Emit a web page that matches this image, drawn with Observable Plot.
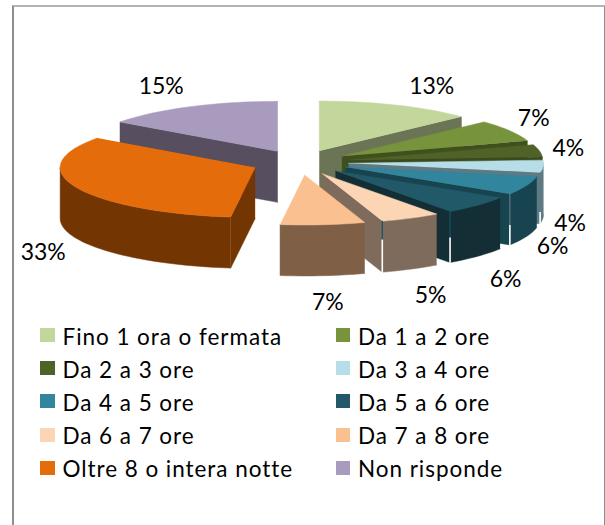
<!DOCTYPE html>
<html>
<head>
<meta charset="utf-8">
<script src="https://cdn.jsdelivr.net/npm/d3@7"></script>
<script src="https://cdn.jsdelivr.net/npm/@observablehq/plot@0.6"></script>
<style>
  html, body { margin: 0; padding: 0; background: #fff; }
  #page { position: relative; width: 605px; height: 525px; overflow: hidden; font-family: Lato, "Open Sans", sans-serif; color: #000; }
  #frame { position: absolute; left: 12px; top: 5px; width: 590px; height: 530px; border: 2px solid #8e8e8e; border-top-color: #b4b4b4; }
  #chart { position: absolute; left: 0; top: 0; }
  #chart svg { background: transparent; display: block; }
  #legend { position: absolute; left: 40px; top: 319.5px; display: grid; grid-template-columns: 295.5px 250px; grid-auto-rows: 33.2px; font-size: 22.5px; letter-spacing: 0.95px; }
  .item { display: flex; align-items: center; white-space: nowrap; }
  .swatch { width: 14.5px; height: 14px; margin-right: 8px; flex: none; position: relative; top: -1px; }
</style>
</head>
<body>
<div id="page">
  <div id="frame"></div>
  <div id="chart"></div>
  <div id="legend"></div>
</div>
<script>
const categories = ["Fino 1 ora o fermata","Da 1 a 2 ore","Da 2 a 3 ore","Da 3 a 4 ore","Da 4 a 5 ore","Da 5 a 6 ore","Da 6 a 7 ore","Da 7 a 8 ore","Oltre 8 o intera notte","Non risponde"];
const values = [13,7,4,4,6,6,5,7,33,15];
const topColors = ["#C3D69B","#77933C","#4F6228","#B7DEE8","#31859C","#215968","#FCD5B5","#FAC090","#E46C0A","#A99BBD"];
const sideColors = ["#6B7555","#3F4F1E","#3A4A1C","#5F7A84","#17444F","#132E35","#7F6B5B","#7F6047","#733602","#574E60"];

// Layout of the exploded pie, in pixels
const W = 605, H = 325, CX = 299.4, CY = 162, RX = 195, RY = 50, DEPTH = 1.02, EXPLODE = 0.25;
// Pixel nudges of the labels from each slice's outer midpoint
const labelNudge = [[35,-19],[24,-12],[29,-2],[27,57],[26,61],[28,74],[20,77],[5,78],[-33,65],[-28,-20]];
// Thin seams at the end of some slices' walls: [slice, fraction of the wall where white starts, upper colour]
const seams = [[3,.78,"#5F7A84"],[4,.62,"#5F7A84"],[5,.52,"#17536A"],[6,.37,"#17536A"]];

const total = d3.sum(values);
const rad = Math.PI / 180;
let cum = 0;
const slices = values.map((v, i) => {
  const a0 = cum / total * 360; cum += v;
  const a1 = cum / total * 360;
  const mid = (a0 + a1) / 2 * rad;
  const ax = EXPLODE * Math.sin(mid), ay = -EXPLODE * Math.cos(mid);
  return {i, name: categories[i], value: v, a0, a1, mid, ax, ay};
});
const rim = (s, a) => [s.ax + Math.sin(a * rad), s.ay - Math.cos(a * rad)];
function arc(s, from, to) {
  const n = Math.max(1, Math.ceil((to - from) / 2));
  return d3.range(n + 1).map(k => rim(s, from + (to - from) * k / n));
}

const faces = [];
function addFace(pts, key, id) { pts.forEach(([x, y]) => faces.push({x, y, key, id})); }
function wall(pts, s, id) {
  const key = s.name + " side";
  addFace([...pts, ...pts.slice().reverse().map(([x, y]) => [x, y + DEPTH])], key, id);
}
// painter's order: the fan on the right from back to front, then the other slices
[0,1,2,3,4,5,6,7,9,8].forEach(i => {
  const s = slices[i];
  if (Math.sin(s.a0 * rad) < -1e-6) wall([[s.ax, s.ay], rim(s, s.a0)], s, i + "start");
  if (Math.sin(s.a1 * rad) > 1e-6) wall([[s.ax, s.ay], rim(s, s.a1)], s, i + "end");
  const f = Math.max(s.a0, 90), t = Math.min(s.a1, 270);
  if (t > f) wall(arc(s, f, t), s, i + "outer");
  addFace([[s.ax, s.ay], ...arc(s, s.a0, s.a1)], s.name, i + "top");
});

const labels = slices.map((s, i) => ({
  text: s.value + "%",
  x: s.ax + Math.sin(s.mid) + labelNudge[i][0] / RX,
  y: s.ay - Math.cos(s.mid) + labelNudge[i][1] / RY
}));
const seamRows = seams.map(([i, f, c]) => {
  const [x, y] = rim(slices[i], slices[i].a1);
  return {x, y, f, c};
});

const chart = Plot.plot({
  width: W, height: H, margin: 0,
  x: {domain: [-CX / RX, (W - CX) / RX], range: [0, W], axis: null},
  y: {domain: [-CY / RY, (H - CY) / RY], range: [0, H], axis: null},
  color: {
    domain: [...categories, ...categories.map(c => c + " side")],
    range: [...topColors, ...sideColors]
  },
  marks: [
    Plot.line(faces, {x: "x", y: "y", z: "id", fill: "key", stroke: "key", strokeWidth: 0.5, curve: "linear"}),
    Plot.ruleX(seamRows, {x: "x", y1: "y", y2: d => d.y + d.f * DEPTH, stroke: "c", strokeWidth: 1.2}),
    Plot.ruleX(seamRows, {x: "x", y1: d => d.y + d.f * DEPTH, y2: d => d.y + DEPTH + .04, stroke: "#ffffff", strokeWidth: 1.6}),
    Plot.text(labels, {x: "x", y: "y", text: "text", fontSize: 23, fill: "#000", fontFamily: "Lato, 'Open Sans', sans-serif"})
  ]
});
document.getElementById("chart").appendChild(chart);

const legend = document.getElementById("legend");
categories.forEach((c, i) => {
  const item = document.createElement("div");
  item.className = "item";
  const sw = document.createElement("span");
  sw.className = "swatch";
  sw.style.background = topColors[i];
  const tx = document.createElement("span");
  tx.textContent = c;
  item.append(sw, tx);
  legend.appendChild(item);
});
</script>
</body>
</html>
